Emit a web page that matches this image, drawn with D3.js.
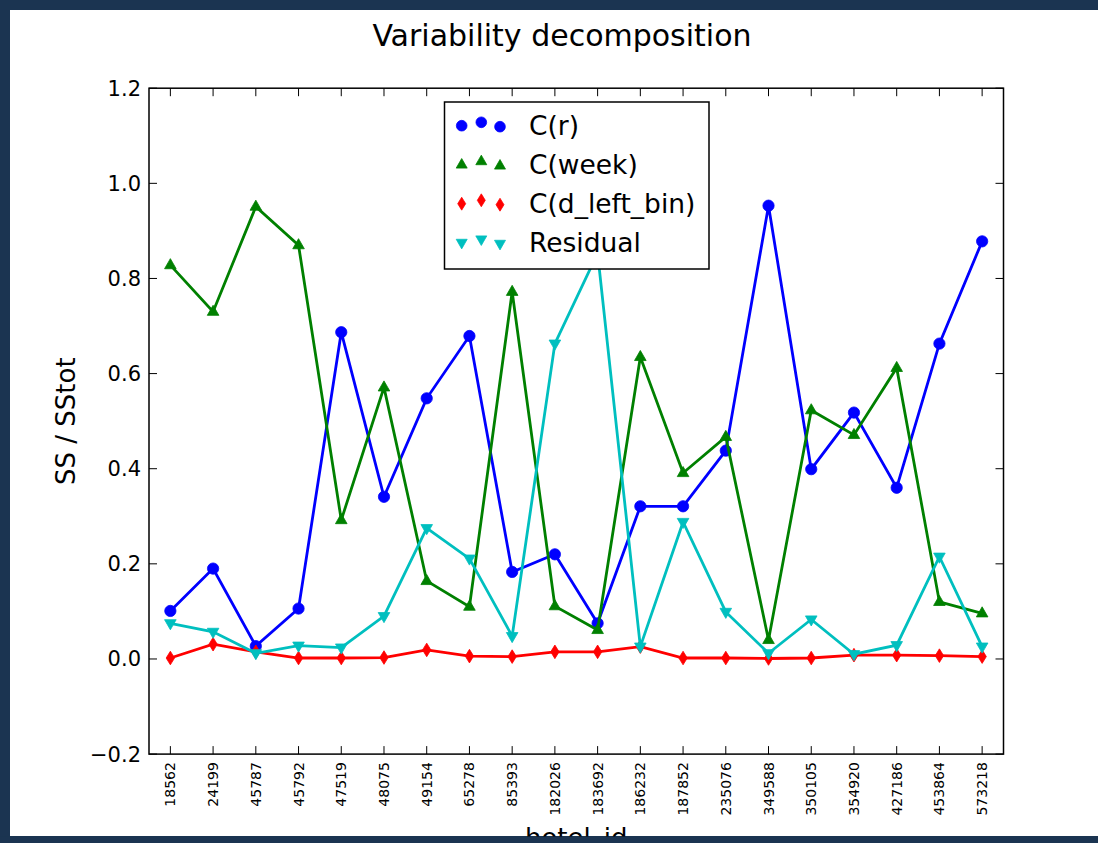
<!DOCTYPE html>
<html><head><meta charset="utf-8">
<script src="https://cdn.jsdelivr.net/npm/d3@7"></script>
<style>html,body{margin:0;padding:0;background:#1b3451;}svg{display:block;}</style>
</head><body>
<svg id="c" width="1098" height="843"></svg>
<script>
const hotelIds = ["18562","24199","45787","45792","47519","48075","49154","65278","85393","182026","183692","186232","187852","235076","349588","350105","354920","427186","453864","573218"];
const cR = [0.101,0.190,0.027,0.106,0.687,0.341,0.548,0.679,0.183,0.220,0.075,0.321,0.321,0.438,0.953,0.399,0.518,0.360,0.663,0.878];
const cWeek = [0.828,0.730,0.951,0.870,0.292,0.571,0.164,0.110,0.772,0.111,0.061,0.635,0.391,0.467,0.040,0.523,0.471,0.612,0.120,0.096];
const cDLeftBin = [0.002,0.031,0.015,0.002,0.002,0.003,0.019,0.006,0.005,0.015,0.015,0.026,0.002,0.002,0.001,0.002,0.008,0.008,0.007,0.005];
const residual = [0.075,0.057,0.012,0.028,0.024,0.090,0.275,0.211,0.048,0.663,0.853,0.026,0.288,0.099,0.012,0.083,0.010,0.029,0.215,0.026];
const yTicks = [-0.2,0.0,0.2,0.4,0.6,0.8,1.0,1.2];
const seriesNames = ["C(r)","C(week)","C(d_left_bin)","Residual"];

const series = [
  {name: seriesNames[0], values: cR, color: "#0000ff", marker: "circle"},
  {name: seriesNames[1], values: cWeek, color: "#008000", marker: "tri"},
  {name: seriesNames[2], values: cDLeftBin, color: "#ff0000", marker: "diamond"},
  {name: seriesNames[3], values: residual, color: "#00bfbf", marker: "trid"}
];

const svg = d3.select("#c");
const FONT = "'DejaVu Sans', sans-serif";
svg.append("rect").attr("x",10).attr("y",10).attr("width",1088).attr("height",826).attr("fill","#fff");

const L = 149, R = 1003.5, T = 88.2, B = 754.1;
const x = d3.scaleLinear().domain([-0.5, hotelIds.length - 0.5]).range([L, R]);
const y = d3.scaleLinear().domain([-0.2, 1.2]).range([B, T]);

function markerPath(type) {
  if (type === "circle") return d3.symbol(d3.symbolCircle, 100)();
  if (type === "tri") return "M0,-6.5L5.8,3.6L-5.8,3.6Z";
  if (type === "trid") return "M0,6.5L5.8,-3.6L-5.8,-3.6Z";
  if (type === "diamond") return "M0,-6.8L4.2,0L0,6.8L-4.2,0Z";
}

svg.append("clipPath").attr("id","plotclip").append("rect").attr("x",L).attr("y",T).attr("width",R-L).attr("height",B-T);
const plot = svg.append("g").attr("clip-path","url(#plotclip)");

const line = d3.line().x((d,i)=>x(i)).y(d=>y(d));
series.forEach(s => {
  plot.append("path").attr("d", line(s.values)).attr("fill","none").attr("stroke", s.color).attr("stroke-width", 2.8);
  plot.selectAll(null).data(s.values).enter().append("path")
    .attr("d", markerPath(s.marker))
    .attr("transform", (d,i)=>`translate(${x(i)},${y(d)})`)
    .attr("fill", s.color).attr("stroke", s.color).attr("stroke-width", 0.8);
});

const ax = svg.append("g");
ax.append("rect").attr("x",L).attr("y",T).attr("width",R-L).attr("height",B-T).attr("fill","none").attr("stroke","#000").attr("stroke-width",1.5);

const tl = 8;
hotelIds.forEach((h,i) => {
  ax.append("line").attr("x1",x(i)).attr("x2",x(i)).attr("y1",B).attr("y2",B-tl).attr("stroke","#000").attr("stroke-width",1);
  ax.append("line").attr("x1",x(i)).attr("x2",x(i)).attr("y1",T).attr("y2",T+tl).attr("stroke","#000").attr("stroke-width",1);
  ax.append("text").attr("transform",`translate(${x(i)+5},${B+8}) rotate(-90)`)
    .attr("text-anchor","end").attr("font-family",FONT).attr("font-size",14).attr("fill","#000").text(h);
});
yTicks.forEach(v => {
  ax.append("line").attr("x1",L).attr("x2",L+tl).attr("y1",y(v)).attr("y2",y(v)).attr("stroke","#000").attr("stroke-width",1);
  ax.append("line").attr("x1",R).attr("x2",R-tl).attr("y1",y(v)).attr("y2",y(v)).attr("stroke","#000").attr("stroke-width",1);
  ax.append("text").attr("x",L-8).attr("y",y(v)+7.5).attr("text-anchor","end").attr("font-family",FONT).attr("font-size",21).attr("fill","#000")
    .text(v < 0 ? "\u2212" + Math.abs(v).toFixed(1) : v.toFixed(1));
});

svg.append("text").attr("x",562).attr("y",46).attr("text-anchor","middle").attr("font-family",FONT).attr("font-size",30).attr("fill","#000").text("Variability decomposition");
svg.append("text").attr("transform",`translate(75,${(T+B)/2}) rotate(-90)`).attr("text-anchor","middle").attr("font-family",FONT).attr("font-size",26).attr("fill","#000").text("SS / SStot");
svg.append("text").attr("x",(L+R)/2).attr("y",847).attr("text-anchor","middle").attr("font-family",FONT).attr("font-size",26).attr("fill","#000").text("hotel_id");

const lg = svg.append("g");
lg.append("rect").attr("x",444.5).attr("y",102).attr("width",264.5).attr("height",167).attr("fill","#fff").attr("stroke","#000").attr("stroke-width",1.5);
const offs = [[461.7, 0.7],[481.3,-2.7],[500,1.7]];
series.forEach((s,k) => {
  const cy = 125 + k*39;
  offs.forEach(o => {
    lg.append("path").attr("d", markerPath(s.marker)).attr("transform",`translate(${o[0]},${cy+o[1]}) scale(0.95)`).attr("fill",s.color).attr("stroke",s.color).attr("stroke-width",0.8);
  });
  lg.append("text").attr("x",529).attr("y",135 + k*39).attr("font-family",FONT).attr("font-size",26.5).attr("fill","#000").text(s.name);
});

svg.append("rect").attr("x",0).attr("y",836.5).attr("width",1098).attr("height",7).attr("fill","#1b3451");
</script>
</body></html>
